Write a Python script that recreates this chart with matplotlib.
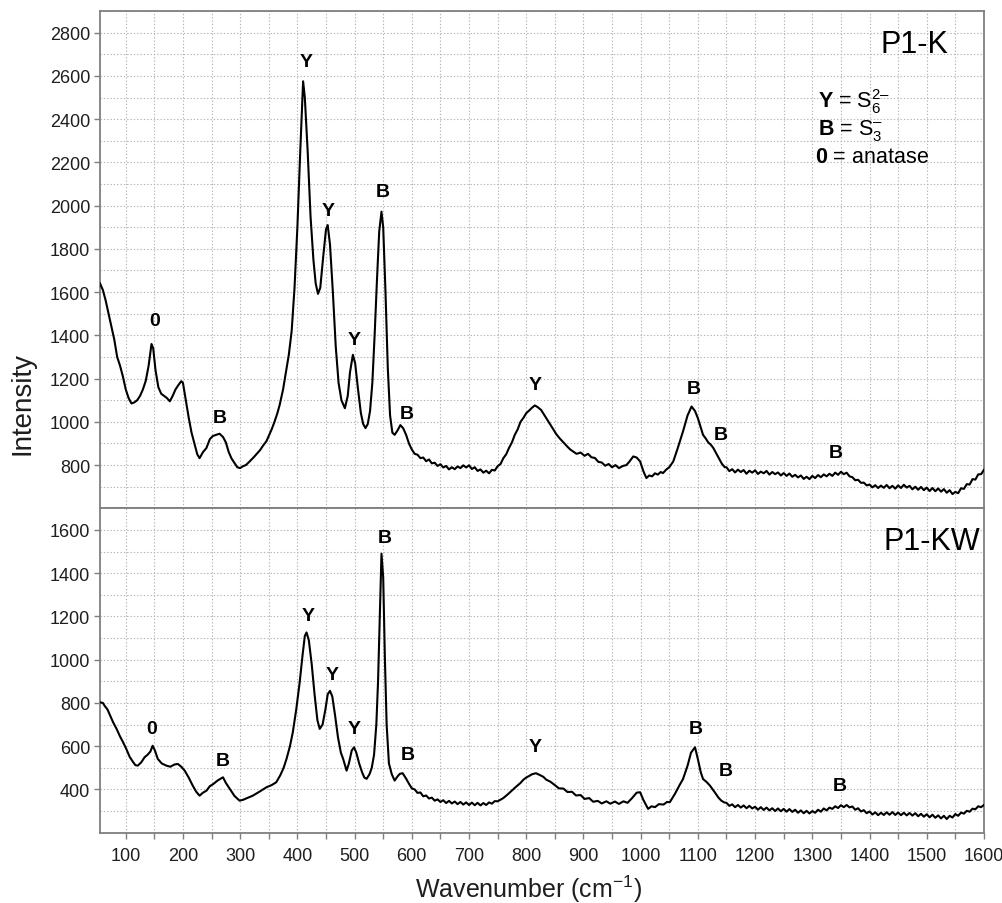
import matplotlib
matplotlib.use("Agg")
import matplotlib.pyplot as plt
from matplotlib.ticker import MultipleLocator, FixedLocator

plt.rcParams['font.family'] = ['Liberation Sans', 'DejaVu Sans']
plt.rcParams['mathtext.fontset'] = 'custom'
plt.rcParams['mathtext.rm'] = 'Liberation Sans'
plt.rcParams['mathtext.it'] = 'Liberation Sans:italic'
plt.rcParams['mathtext.bf'] = 'Liberation Sans:bold'

# ---------------- data (wavenumber, intensity) ----------------
k_points = [
    (55, 1640), (60, 1610), (65, 1560), (70, 1500), (75, 1440), (80, 1380), (85, 1300), (90, 1260),
    (95, 1210), (100, 1150), (105, 1110), (110, 1085), (115, 1090), (120, 1100), (125, 1120), (130, 1150),
    (135, 1190), (140, 1260), (145, 1360), (148, 1340), (152, 1240), (157, 1160), (162, 1130), (167, 1120),
    (172, 1110), (177, 1095), (182, 1120), (187, 1150), (192, 1170), (197, 1188), (200, 1180), (205, 1100),
    (210, 1020), (215, 950), (220, 900), (225, 850), (229, 832), (235, 860), (241, 879), (247, 920),
    (252, 934), (258, 940), (264, 945), (270, 930), (275, 905), (280, 860), (285, 830), (290, 810),
    (295, 790), (300, 786), (305, 795), (310, 800), (317, 818), (325, 840), (330, 855), (335, 870),
    (340, 890), (346, 911), (350, 935), (355, 965), (360, 1000), (365, 1040), (369, 1078), (375, 1150),
    (380, 1230), (385, 1310), (390, 1420), (395, 1620), (400, 1900), (405, 2250), (410, 2575), (413, 2500),
    (418, 2250), (423, 1950), (428, 1750), (432, 1640), (436, 1592), (440, 1620), (445, 1760), (450, 1890),
    (453, 1910), (457, 1820), (462, 1600), (467, 1350), (472, 1180), (477, 1100), (483, 1063), (488, 1120),
    (492, 1230), (497, 1310), (501, 1270), (506, 1150), (511, 1040), (515, 990), (519, 971), (523, 990),
    (527, 1050), (531, 1180), (535, 1400), (539, 1650), (543, 1880), (547, 1972), (550, 1900), (554, 1600),
    (558, 1250), (562, 1030), (566, 950), (570, 940), (575, 960), (580, 985), (585, 970), (590, 940),
    (595, 900), (600, 872), (605, 852), (610, 848), (615, 832), (620, 835), (625, 818), (630, 826),
    (635, 808), (640, 811), (645, 796), (650, 804), (655, 789), (660, 796), (665, 780), (670, 790),
    (675, 781), (680, 794), (685, 786), (690, 799), (695, 789), (700, 799), (705, 782), (710, 790),
    (715, 773), (720, 780), (725, 765), (730, 774), (735, 762), (740, 778), (745, 775), (750, 795),
    (755, 805), (760, 832), (765, 850), (770, 880), (775, 905), (780, 940), (785, 965), (790, 1000),
    (795, 1018), (800, 1040), (805, 1052), (810, 1065), (815, 1076), (820, 1068), (826, 1055), (832, 1030),
    (838, 1005), (845, 975), (852, 945), (858, 925), (865, 905), (872, 885), (877, 872), (882, 863),
    (888, 852), (895, 858), (902, 843), (908, 852), (914, 836), (920, 833), (926, 815), (932, 812),
    (938, 797), (944, 805), (950, 790), (956, 800), (962, 786), (969, 796), (975, 800), (980, 815),
    (987, 840), (993, 835), (999, 817), (1005, 770), (1010, 740), (1015, 752), (1020, 748), (1025, 762),
    (1030, 756), (1035, 768), (1039, 763), (1045, 780), (1050, 790), (1057, 817), (1065, 880), (1074, 956),
    (1082, 1030), (1089, 1071), (1095, 1050), (1100, 1017), (1105, 975), (1109, 940), (1114, 922), (1118, 905),
    (1123, 893), (1127, 879), (1132, 855), (1137, 830), (1142, 806), (1147, 790),
    (1150, 790), (1155, 772), (1160, 781), (1165, 766), (1170, 779), (1175, 768), (1180, 777), (1185, 760),
    (1190, 774), (1195, 765), (1200, 776), (1205, 759), (1210, 770), (1215, 762), (1220, 773), (1225, 756),
    (1230, 768), (1235, 758), (1240, 766), (1245, 752), (1250, 763), (1255, 750), (1260, 761), (1265, 746),
    (1270, 755), (1275, 743), (1280, 752), (1285, 736), (1290, 746), (1295, 735), (1300, 750), (1305, 740),
    (1310, 754), (1315, 744), (1320, 757), (1325, 748), (1330, 760), (1335, 750), (1340, 765), (1345, 755),
    (1350, 769), (1355, 758), (1360, 765), (1365, 748), (1370, 744), (1375, 730), (1380, 732), (1385, 718),
    (1390, 719), (1395, 706), (1400, 710), (1405, 697), (1410, 707), (1415, 694), (1420, 705), (1425, 695),
    (1430, 708), (1435, 693), (1440, 704), (1445, 691), (1450, 706), (1455, 694), (1460, 709), (1465, 696),
    (1470, 704), (1475, 688), (1480, 700), (1485, 686), (1490, 699), (1495, 684), (1500, 696), (1505, 680),
    (1510, 694), (1515, 679), (1520, 692), (1525, 677), (1530, 689), (1535, 672), (1540, 684), (1545, 666),
    (1550, 676), (1555, 670), (1560, 693), (1565, 690), (1570, 712), (1575, 710), (1580, 735), (1585, 733),
    (1590, 757), (1595, 758), (1600, 778),
]

kw_points = [
    (55, 803), (60, 800), (63, 787), (68, 770), (73, 740), (78, 710), (84, 680), (90, 645),
    (95, 620), (101, 587), (107, 550), (113, 526), (117, 512), (121, 510), (127, 525), (133, 549),
    (138, 560), (143, 575), (147, 602), (151, 580), (156, 541), (163, 520), (171, 510), (178, 505),
    (185, 515), (191, 518), (197, 505), (203, 487), (210, 455), (217, 418), (223, 390), (229, 371),
    (235, 385), (241, 394), (247, 415), (253, 425), (260, 440), (266, 450), (270, 456), (275, 430),
    (282, 402), (290, 370), (299, 348), (305, 352), (312, 360), (322, 371), (334, 390), (346, 410),
    (355, 420), (363, 433), (370, 465), (376, 500), (381, 541), (387, 600), (392, 664), (398, 770),
    (404, 895), (409, 1020), (413, 1110), (416, 1126), (420, 1090), (425, 980), (430, 840), (435, 720),
    (439, 680), (444, 700), (449, 770), (453, 840), (457, 856), (461, 830), (466, 740), (471, 640),
    (476, 570), (480, 541), (486, 487), (490, 520), (495, 580), (499, 595), (503, 570), (508, 520),
    (513, 480), (517, 455), (521, 449), (526, 470), (530, 500), (534, 560), (538, 700), (541, 900),
    (544, 1200), (547, 1490), (550, 1380), (553, 1000), (556, 700), (560, 520), (565, 470), (570, 441),
    (575, 460), (579, 472), (584, 475), (590, 450), (596, 422), (600, 405), (605, 400), (610, 384),
    (615, 386), (620, 368), (625, 372), (630, 358), (635, 362), (640, 348), (645, 354), (650, 342),
    (655, 350), (660, 337), (665, 347), (670, 335), (675, 344), (680, 332), (685, 342), (690, 330),
    (695, 340), (700, 328), (705, 339), (710, 327), (715, 338), (720, 326), (725, 337), (730, 328),
    (735, 340), (740, 334), (745, 346), (750, 345), (760, 360), (768, 378), (775, 395), (782, 412),
    (790, 430), (795, 445), (800, 455), (805, 462), (810, 470), (817, 475), (825, 465), (830, 458),
    (835, 445), (842, 436), (850, 420), (857, 405), (865, 404), (872, 388), (880, 389), (887, 372),
    (895, 374), (902, 356), (910, 360), (917, 343), (925, 347), (932, 335), (940, 345), (947, 334),
    (955, 344), (962, 333), (970, 345), (977, 338), (985, 360), (993, 385), (999, 387), (1005, 350),
    (1013, 310), (1019, 322), (1025, 318), (1032, 332), (1040, 330), (1046, 342), (1051, 341), (1060, 380),
    (1068, 420), (1074, 448), (1082, 510), (1088, 570), (1095, 595), (1100, 540), (1105, 480), (1109, 448),
    (1115, 435), (1121, 418), (1126, 400), (1130, 385), (1136, 362), (1141, 348), (1146, 340),
    (1150, 338), (1155, 324), (1160, 331), (1165, 318), (1170, 328), (1175, 316), (1180, 326), (1185, 313),
    (1190, 324), (1195, 312), (1200, 320), (1205, 306), (1210, 318), (1215, 305), (1220, 316), (1225, 303),
    (1230, 313), (1235, 300), (1240, 312), (1245, 299), (1250, 310), (1255, 297), (1260, 309), (1265, 296),
    (1270, 306), (1275, 292), (1280, 303), (1285, 290), (1290, 301), (1295, 289), (1300, 300), (1305, 292),
    (1310, 306), (1315, 297), (1320, 312), (1325, 303), (1330, 316), (1335, 310), (1340, 322), (1345, 314),
    (1350, 327), (1355, 318), (1360, 328), (1365, 317), (1370, 321), (1375, 306), (1380, 313), (1385, 298),
    (1390, 304), (1395, 290), (1400, 298), (1405, 284), (1410, 294), (1415, 281), (1420, 292), (1425, 282),
    (1430, 294), (1435, 283), (1440, 295), (1445, 282), (1450, 293), (1455, 281), (1460, 292), (1465, 280),
    (1470, 291), (1475, 279), (1480, 290), (1485, 276), (1490, 287), (1495, 274), (1500, 285), (1505, 271),
    (1510, 283), (1515, 269), (1520, 280), (1525, 266), (1530, 278), (1535, 263), (1540, 278), (1545, 270),
    (1550, 286), (1555, 278), (1560, 293), (1565, 288), (1570, 301), (1575, 297), (1580, 311), (1585, 308),
    (1590, 322), (1595, 318), (1600, 328),
]

k_wavenumber = [p[0] for p in k_points]
k_intensity = [p[1] for p in k_points]
kw_wavenumber = [p[0] for p in kw_points]
kw_intensity = [p[1] for p in kw_points]

# peak annotations: (text, x, y)
k_labels = [("0", 150, 1467), ("B", 265, 1022), ("Y", 416, 2665), ("Y", 454, 1979), ("Y", 500, 1379),
            ("B", 550, 2064), ("B", 592, 1040), ("Y", 815, 1171), ("B", 1093, 1156), ("B", 1140, 943),
            ("B", 1341, 860)]
kw_labels = [("0", 145, 683), ("B", 269, 536), ("Y", 418, 1203), ("Y", 460, 931), ("Y", 500, 680),
             ("B", 553, 1565), ("B", 593, 560), ("Y", 815, 600), ("B", 1096, 683), ("B", 1149, 487),
             ("B", 1348, 418)]

k_yticks = [800, 1000, 1200, 1400, 1600, 1800, 2000, 2200, 2400, 2600, 2800]
kw_yticks = [400, 600, 800, 1000, 1200, 1400, 1600]
x_ticks = [100, 200, 300, 400, 500, 600, 700, 800, 900, 1000, 1100, 1200, 1300, 1400, 1500, 1600]

# ---------------- figure ----------------
fig = plt.figure(figsize=(10.03, 9.04), dpi=100)
gs = fig.add_gridspec(2, 1, height_ratios=[2300, 1500], hspace=0,
                      left=0.0997, right=0.981, top=0.9867, bottom=0.0778)
ax1 = fig.add_subplot(gs[0])
ax2 = fig.add_subplot(gs[1], sharex=ax1)

spine_col = '#7f7f7f'
text_col = '#1e1e1e'
grid_kw = dict(color='#b5b5b5', linestyle=(0, (1.2, 1.8)), linewidth=0.8)

for ax, xs, ys, labs, yt, ylim in [(ax1, k_wavenumber, k_intensity, k_labels, k_yticks, (600, 2900)),
                                   (ax2, kw_wavenumber, kw_intensity, kw_labels, kw_yticks, (200, 1700))]:
    ax.plot(xs, ys, color='black', linewidth=1.5, zorder=3)
    ax.set_xlim(55, 1600)
    ax.set_ylim(*ylim)
    ax.yaxis.set_major_locator(FixedLocator(yt))
    ax.yaxis.set_minor_locator(MultipleLocator(100))
    ax.xaxis.set_major_locator(FixedLocator(x_ticks))
    ax.xaxis.set_minor_locator(MultipleLocator(50))
    ax.grid(True, which='both', **grid_kw)
    ax.set_axisbelow(True)
    for s in ax.spines.values():
        s.set_color(spine_col)
        s.set_linewidth(1.3)
    ax.tick_params(axis='y', which='major', direction='out', length=4, width=1, color=spine_col,
                   labelsize=13, labelcolor=text_col, pad=3)
    ax.tick_params(axis='y', which='minor', length=0)
    for t, x, y in labs:
        ax.text(x, y, t, ha='center', va='center', fontsize=14, fontweight='bold', color='black', zorder=4)

ax1.tick_params(axis='x', which='both', length=0, labelbottom=False)
ax2.tick_params(axis='x', which='both', direction='out', length=4, width=1, color=spine_col,
                labelsize=13, labelcolor=text_col, pad=6)

ax1.text(1537, 2749, "P1-K", ha='right', va='center', fontsize=22, color='black')
ax2.text(1593, 1549, "P1-KW", ha='right', va='center', fontsize=22, color='black')

leg_x = 1310
ax1.text(leg_x, 2457, "$\\mathbf{Y}$ = S$_6^{2\u2013}$", ha='left', va='baseline', fontsize=15.5)
ax1.text(leg_x, 2333, "$\\mathbf{B}$ = S$_3^{\u2013}$", ha='left', va='baseline', fontsize=15.5)
ax1.text(leg_x - 5, 2203, "$\\mathbf{0}$ = anatase", ha='left', va='baseline', fontsize=15.5)

fig.text(0.527, 1 - 889 / 904, "Wavenumber (cm$^{-1}$)", ha='center', va='center', fontsize=18, color=text_col)
fig.text(0.022, 1 - 404 / 904, "Intensity", rotation=90, ha='center', va='center', fontsize=20, color=text_col)

fig.savefig("out.png", dpi=100)
